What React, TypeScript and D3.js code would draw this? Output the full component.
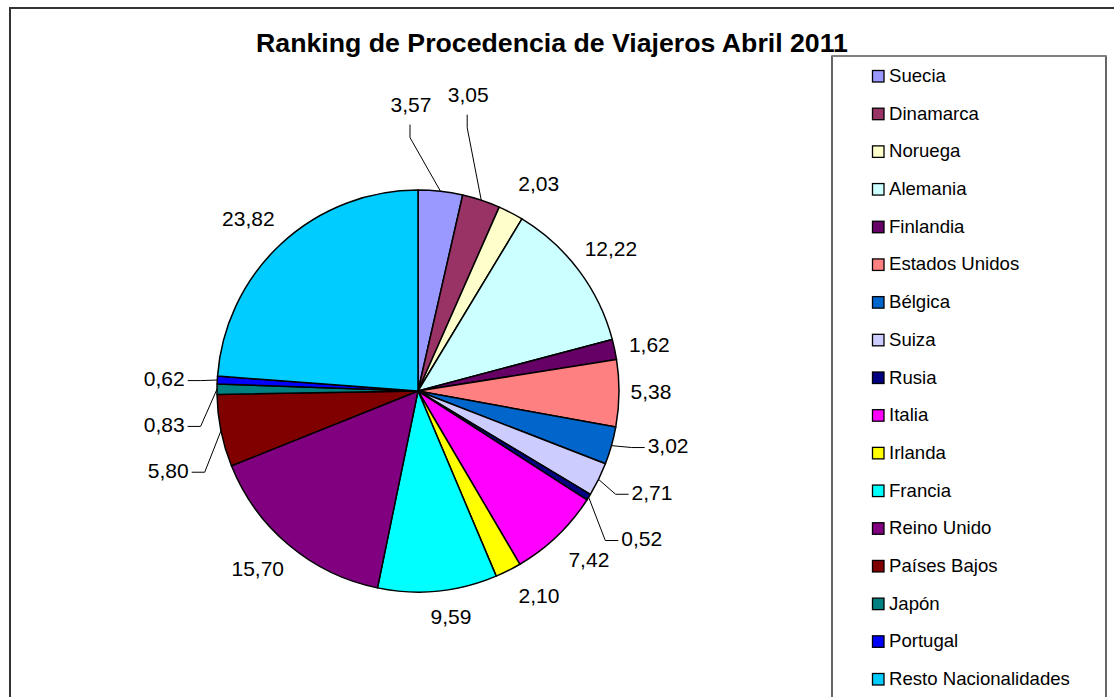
import React from 'react'
import * as d3 from 'd3'

// data
const countries = [
  'Suecia', 'Dinamarca', 'Noruega', 'Alemania', 'Finlandia', 'Estados Unidos',
  'Bélgica', 'Suiza', 'Rusia', 'Italia', 'Irlanda', 'Francia', 'Reino Unido',
  'Países Bajos', 'Japón', 'Portugal', 'Resto Nacionalidades',
]
const shares = [
  3.57, 3.05, 2.03, 12.22, 1.62, 5.38, 3.02, 2.71, 0.52, 7.42, 2.1, 9.59, 15.7,
  5.8, 0.83, 0.62, 23.82,
]
const colors = [
  '#9999FF', '#993366', '#FFFFCC', '#CCFFFF', '#660066', '#FF8080', '#0066CC',
  '#CCCCFF', '#000080', '#FF00FF', '#FFFF00', '#00FFFF', '#800080', '#800000',
  '#008080', '#0000FF', '#00CCFF',
]
const title = 'Ranking de Procedencia de Viajeros Abril 2011'

// label layout: [angle in degrees from 12 o'clock, distance from centre, leader side]
const labelLayout: [number, number, string][] = [
  [358.6, 287, 'bottom'], [9.6, 301, 'bottom'], [30.2, 240, ''], [53.5, 240, ''],
  [78.6, 236, ''], [90.1, 233, ''], [102.3, 256, 'right'], [113.4, 255, 'right'],
  [123.4, 268, 'right'], [134.6, 240, ''], [149.4, 237.6, ''], [171.7, 228, ''],
  [222.1, 239, ''], [252.4, 262, 'left'], [262.5, 256, 'left'], [272.8, 254, 'left'],
  [315.5, 242, ''],
]

const W = 1114
const H = 697
const cx = 418
const cy = 391
const R = 201
const labelSize = 21
const font = '"Liberation Sans", Arial, sans-serif'

const fmt = (v: number) => v.toFixed(2).replace('.', ',')
const textWidth = (s: string) =>
  s.split('').reduce((w, c) => w + (c === ',' ? 0.278 : 0.556), 0) * labelSize

export default function App() {
  const pie = d3.pie<number>().sort(null).value((d) => d)
  const arcs = pie(shares)
  const arc = d3.arc<d3.PieArcDatum<number>>().innerRadius(0).outerRadius(R)

  const polar = (deg: number, dist: number) => {
    const a = (deg * Math.PI) / 180
    return [cx + dist * Math.sin(a), cy - dist * Math.cos(a)]
  }

  const legendY = d3.scalePoint<string>().domain(countries).range([82, 685])

  return (
    <svg
      width={W}
      height={H}
      style={{ position: 'absolute', left: 0, top: 0, background: '#fff' }}
      fontFamily={font}
    >
      <rect x={10} y={8} width={W + 20} height={H + 20} fill="#fff" stroke="#333" strokeWidth={2} />

      <text x={552} y={52} textAnchor="middle" fontSize={26.7} fontWeight="bold" fill="#000">
        {title}
      </text>

      <g transform={`translate(${cx},${cy})`}>
        {arcs.map((d, i) => (
          <path key={i} d={arc(d) || ''} fill={colors[i]} stroke="#000" strokeWidth={1.5} strokeLinejoin="round" />
        ))}
      </g>

      {arcs.map((d, i) => {
        const [ang, dist, side] = labelLayout[i]
        const [lx, ly] = polar(ang, dist)
        const label = fmt(shares[i])
        const w = textWidth(label)
        let leader: string | null = null
        if (side) {
          const mid = (((d.startAngle + d.endAngle) / 2) * 180) / Math.PI
          const [ax, ay] = polar(mid, R)
          let ex = 0, ey = 0, bx = 0, by = 0
          if (side === 'bottom') {
            ex = lx - 1
            ey = ly + 7.5 + 13
            bx = ex
            by = ey + 13
          } else if (side === 'right') {
            ex = lx - w / 2 - 3
            ey = ly + 2
            bx = ex - 13
            by = ey
          } else {
            ex = lx + w / 2 + 3
            ey = ly + 2
            bx = ex + 13
            by = ey
          }
          leader = d3.line()([[ax, ay], [bx, by], [ex, ey]]) || ''
        }
        return (
          <g key={i}>
            {leader && <path d={leader} fill="none" stroke="#000" strokeWidth={1} />}
            <text x={lx} y={ly + 7.5} textAnchor="middle" fontSize={labelSize} fill="#000">
              {label}
            </text>
          </g>
        )
      })}

      <rect x={832} y={56} width={274} height={H} fill="#fff" stroke="#000" strokeWidth={1.2} />
      <line x1={832} x2={1106} y1={56} y2={56} stroke="#808080" strokeWidth={2} />
      {countries.map((c, i) => {
        const y = legendY(c) || 0
        return (
          <g key={c}>
            <rect x={872.5} y={y - 11.5} width={11.5} height={11.5} fill={colors[i]} stroke="#000" strokeWidth={1.3} />
            <text x={889} y={y} fontSize={18.6} fill="#000">
              {c}
            </text>
          </g>
        )
      })}
    </svg>
  )
}
